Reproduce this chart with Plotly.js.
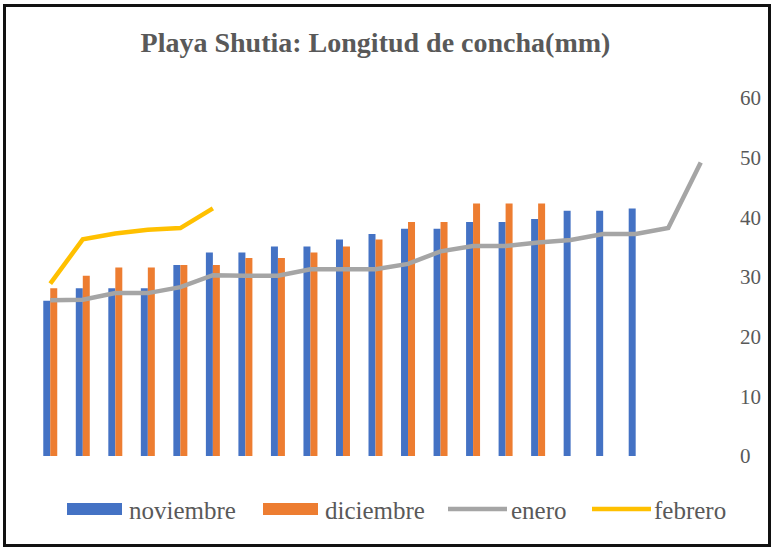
<!DOCTYPE html>
<html>
<head>
<meta charset="utf-8">
<script src="https://cdn.plot.ly/plotly-3.0.1.min.js"></script>
<style>
  body { margin: 0; background: #fff; }
  #wrap { position: relative; width: 773px; height: 548px; }
  #chart { width: 773px; height: 548px; }
  #frame { position: absolute; left: 3px; top: 4px; width: 768px; height: 543px;
           box-sizing: border-box; border: 3px solid #111; pointer-events: none; }
</style>
</head>
<body>
<div id="wrap">
  <div id="chart"></div>
  <div id="frame"></div>
</div>
<script>
// muestras (categorias del eje x, sin etiquetas en el original)
const categories = ['1','2','3','4','5','6','7','8','9','10','11','12','13','14','15','16','17','18','19','20','21'];

const seriesNames = ['noviembre', 'diciembre', 'enero', 'febrero'];

const noviembre = [26, 28.1, 28.1, 28.1, 32, 34.1, 34.1, 35.1, 35.1, 36.3, 37.2, 38.1, 38.1, 39.2, 39.2, 39.7, 41.1, 41.1, 41.5];
const diciembre = [28.1, 30.2, 31.6, 31.6, 32, 32, 33.2, 33.2, 34.1, 35.1, 36.3, 39.2, 39.2, 42.3, 42.3, 42.3];
const enero = [26.1, 26.2, 27.3, 27.3, 28.3, 30.3, 30.2, 30.2, 31.3, 31.3, 31.3, 32.2, 34.3, 35.2, 35.2, 35.8, 36.2, 37.2, 37.2, 38.2, 49.2];
const febrero = [28.9, 36.3, 37.3, 37.9, 38.2, 41.5];

const yTicks = [0, 10, 20, 30, 40, 50, 60];

const colors = ['#4472C4', '#ED7D31', '#A5A5A5', '#FFC000'];
const TEXT = '#595959';
const SERIF = '"Liberation Serif", "Times New Roman", serif';

const W = 773, H = 548;
const M = { l: 34, r: 56, t: 98, b: 92 };
// pixel -> paper, only used for the hand-made legend
const px = x => (x - M.l) / (W - M.l - M.r);
const py = y => (H - M.b - y) / (H - M.t - M.b);

const traces = [
    { type: 'bar', name: seriesNames[0], x: categories.slice(0, noviembre.length), y: noviembre,
      marker: { color: colors[0] }, showlegend: false },
    { type: 'bar', name: seriesNames[1], x: categories.slice(0, diciembre.length), y: diciembre,
      marker: { color: colors[1] }, showlegend: false },
    { type: 'scatter', mode: 'lines', name: seriesNames[2], x: categories.slice(0, enero.length), y: enero,
      line: { color: colors[2], width: 4.5 }, showlegend: false },
    { type: 'scatter', mode: 'lines', name: seriesNames[3], x: categories.slice(0, febrero.length), y: febrero,
      line: { color: colors[3], width: 4.5 }, showlegend: false }
];

// legend drawn by hand so the bar keys are wide rectangles like in Excel
const legendItems = [
    { kind: 'rect', x0: 67, x1: 122, tx: 127 },
    { kind: 'rect', x0: 263, x1: 318, tx: 323 },
    { kind: 'line', x0: 448, x1: 507, tx: 509 },
    { kind: 'line', x0: 592, x1: 651, tx: 652 }
];
const legendY = 509;
const shapes = [];
const annotations = [];
legendItems.forEach((item, i) => {
    if (item.kind === 'rect') {
        shapes.push({ type: 'rect', xref: 'paper', yref: 'paper',
            x0: px(item.x0), x1: px(item.x1), y0: py(legendY + 6), y1: py(legendY - 6),
            fillcolor: colors[i], line: { width: 0 } });
    } else {
        shapes.push({ type: 'line', xref: 'paper', yref: 'paper',
            x0: px(item.x0), x1: px(item.x1), y0: py(legendY), y1: py(legendY),
            line: { color: colors[i], width: 4.5 } });
    }
    annotations.push({ xref: 'paper', yref: 'paper', x: px(item.tx), y: py(legendY + 1),
        xanchor: 'left', yanchor: 'middle', showarrow: false, text: seriesNames[i],
        font: { family: SERIF, size: 25, color: TEXT } });
});

const layout = {
    width: W,
    height: H,
    margin: M,
    paper_bgcolor: '#fff',
    plot_bgcolor: '#fff',
    title: {
        text: '<b>Playa Shutia: Longitud de concha(mm)</b>',
        font: { family: SERIF, size: 28, color: TEXT },
        x: 0.5, xref: 'paper', xanchor: 'center',
        y: 1 - 42 / H, yref: 'container', yanchor: 'middle'
    },
    barmode: 'group',
    bargap: 0.57,
    bargroupgap: 0,
    xaxis: {
        type: 'category',
        range: [-0.5, categories.length - 0.5],
        showticklabels: false,
        showgrid: false,
        zeroline: false,
        showline: false,
        ticks: ''
    },
    yaxis: {
        side: 'right',
        range: [0, 60],
        tickvals: yTicks,
        ticktext: yTicks.map(String),
        showgrid: false,
        zeroline: false,
        showline: false,
        ticks: '',
        ticklabelstandoff: 22,
        tickfont: { family: SERIF, size: 21, color: TEXT }
    },
    shapes,
    annotations,
    showlegend: false
};

Plotly.newPlot('chart', traces, layout, { displayModeBar: false, staticPlot: true });
</script>
</body>
</html>
